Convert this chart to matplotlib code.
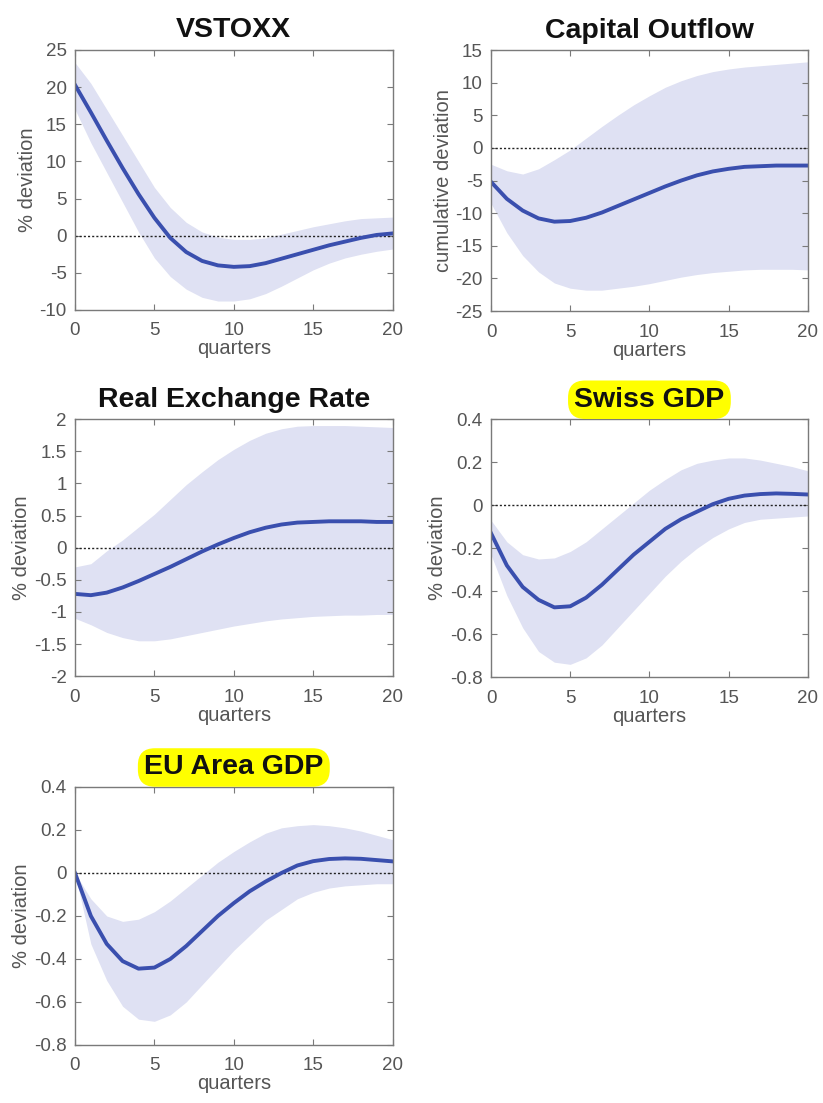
import numpy as np
import matplotlib
matplotlib.use('Agg')
import matplotlib.pyplot as plt

plt.rcParams['font.family'] = ['Liberation Sans', 'DejaVu Sans']

quarters = np.arange(21)

titles = ['VSTOXX', 'Capital Outflow', 'Real Exchange Rate', 'Swiss GDP', 'EU Area GDP']
ylabels = ['% deviation', 'cumulative deviation', '% deviation', '% deviation', '% deviation']
highlight = [False, False, False, True, True]

vstoxx_med = [20.3, 16.6, 12.8, 9.1, 5.6, 2.4, -0.3, -2.2, -3.4, -4.0, -4.2,
              -4.1, -3.7, -3.1, -2.5, -1.9, -1.3, -0.8, -0.3, 0.1, 0.3]
vstoxx_hi = [23.3, 20.5, 17.0, 13.5, 10.0, 6.5, 3.8, 1.8, 0.5, -0.2, -0.5,
             -0.5, -0.3, 0.2, 0.7, 1.2, 1.6, 2.0, 2.3, 2.4, 2.5]
vstoxx_lo = [17.0, 12.5, 8.5, 4.5, 0.5, -3.0, -5.5, -7.2, -8.3, -8.8, -8.8,
             -8.5, -7.8, -6.8, -5.7, -4.6, -3.7, -3.0, -2.5, -2.1, -1.8]

capout_med = [-5.2, -7.8, -9.6, -10.8, -11.3, -11.2, -10.7, -9.9, -8.9, -7.9, -6.9,
              -5.9, -5.0, -4.2, -3.6, -3.2, -2.9, -2.8, -2.7, -2.7, -2.7]
capout_hi = [-2.5, -3.5, -4.0, -3.2, -1.8, -0.3, 1.5, 3.3, 5.0, 6.6, 8.0,
             9.3, 10.3, 11.1, 11.7, 12.1, 12.4, 12.6, 12.8, 13.0, 13.2]
capout_lo = [-8.5, -13.0, -16.5, -19.0, -20.7, -21.5, -21.8, -21.8, -21.5, -21.2, -20.8,
             -20.3, -19.8, -19.4, -19.1, -18.9, -18.7, -18.6, -18.6, -18.6, -18.7]

rer_med = [-0.72, -0.74, -0.70, -0.62, -0.52, -0.41, -0.30, -0.18, -0.06, 0.05, 0.15,
           0.24, 0.31, 0.36, 0.39, 0.40, 0.41, 0.41, 0.41, 0.40, 0.40]
rer_hi = [-0.30, -0.25, -0.05, 0.12, 0.32, 0.52, 0.75, 0.98, 1.18, 1.37, 1.53,
          1.67, 1.78, 1.85, 1.89, 1.90, 1.90, 1.90, 1.89, 1.88, 1.87]
rer_lo = [-1.10, -1.20, -1.32, -1.40, -1.45, -1.45, -1.42, -1.37, -1.32, -1.27, -1.22,
          -1.18, -1.14, -1.11, -1.09, -1.07, -1.06, -1.05, -1.05, -1.04, -1.04]

ch_med = [-0.13, -0.28, -0.38, -0.44, -0.475, -0.47, -0.43, -0.37, -0.30, -0.23, -0.17,
          -0.11, -0.065, -0.03, 0.005, 0.03, 0.045, 0.052, 0.055, 0.053, 0.05]
ch_hi = [-0.07, -0.17, -0.23, -0.25, -0.245, -0.215, -0.17, -0.11, -0.05, 0.01, 0.07,
         0.12, 0.165, 0.195, 0.21, 0.22, 0.22, 0.21, 0.195, 0.18, 0.16]
ch_lo = [-0.23, -0.42, -0.57, -0.68, -0.73, -0.74, -0.71, -0.65, -0.57, -0.49, -0.41,
         -0.33, -0.26, -0.20, -0.15, -0.11, -0.08, -0.065, -0.06, -0.055, -0.05]

eu_med = [0.0, -0.20, -0.33, -0.41, -0.445, -0.44, -0.40, -0.34, -0.27, -0.20, -0.14,
          -0.085, -0.04, 0.0, 0.035, 0.055, 0.065, 0.068, 0.066, 0.06, 0.054]
eu_hi = [0.0, -0.12, -0.20, -0.225, -0.215, -0.18, -0.13, -0.07, -0.01, 0.05, 0.10,
         0.145, 0.185, 0.21, 0.22, 0.225, 0.22, 0.21, 0.195, 0.175, 0.155]
eu_lo = [0.0, -0.33, -0.50, -0.62, -0.68, -0.69, -0.66, -0.60, -0.52, -0.44, -0.36,
         -0.29, -0.22, -0.17, -0.12, -0.09, -0.07, -0.06, -0.055, -0.05, -0.05]

meds = [vstoxx_med, capout_med, rer_med, ch_med, eu_med]
his = [vstoxx_hi, capout_hi, rer_hi, ch_hi, eu_hi]
los = [vstoxx_lo, capout_lo, rer_lo, ch_lo, eu_lo]
yticks = [np.arange(-10, 26, 5), np.arange(-25, 16, 5), np.arange(-2, 2.01, 0.5),
          np.arange(-0.8, 0.41, 0.2), np.arange(-0.8, 0.41, 0.2)]


def fmt(v):
    if abs(v) < 1e-9:
        return '0'
    return '{:g}'.format(round(v, 2))


# axes rectangles in figure fractions (left, bottom, width, height)
rects = [(0.0911, 0.719, 0.386, 0.2357),
         (0.5966, 0.718, 0.385, 0.2366),
         (0.0911, 0.387, 0.386, 0.2330),
         (0.5966, 0.386, 0.385, 0.2339),
         (0.0911, 0.0526, 0.386, 0.2339)]

fig = plt.figure(figsize=(8.23, 11.03), dpi=100)
grey = '#7a7a7a'
for i in range(5):
    ax = fig.add_axes(rects[i])
    ax.fill_between(quarters, los[i], his[i], color='#dfe1f3', lw=0)
    ax.axhline(0, color='#222222', lw=1.0, ls=(0, (1.5, 1.5)))
    ax.plot(quarters, meds[i], color='#3a4fae', lw=2.8, solid_joinstyle='round')
    ax.set_xlim(0, 20)
    ax.set_ylim(yticks[i][0], yticks[i][-1])
    ax.set_xticks(np.arange(0, 21, 5))
    ax.set_yticks(yticks[i])
    ax.set_yticklabels([fmt(v) for v in yticks[i]])
    ax.tick_params(direction='in', top=True, right=True, length=4, width=0.8,
                   color=grey, labelcolor='#555555', labelsize=13.5)
    ax.tick_params(axis='x', pad=9)
    ax.tick_params(axis='y', pad=6)
    for s in ax.spines.values():
        s.set_color(grey)
        s.set_linewidth(1.0)
    ax.set_xlabel('quarters', fontsize=14.5, color='#555555', labelpad=0)
    ax.set_ylabel(ylabels[i], fontsize=14.5, color='#555555', labelpad=2)
    if highlight[i]:
        ax.set_title(titles[i], fontsize=20.5, fontweight='bold', color='#111111', pad=9,
                     bbox=dict(boxstyle='round,pad=0.22,rounding_size=0.6',
                               facecolor='#ffff00', edgecolor='none'))
    else:
        ax.set_title(titles[i], fontsize=20.5, fontweight='bold', color='#111111', pad=9)

fig.savefig('out.png', dpi=100, facecolor='white')
